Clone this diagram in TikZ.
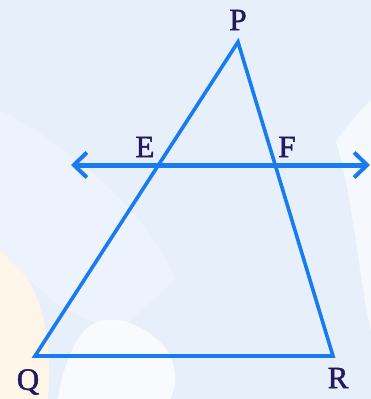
\documentclass[tikz,border=0pt]{standalone}
\usepackage{fontspec}
\setmainfont{Liberation Serif}
\newfontfamily\lblfont[FakeBold=1.6]{Liberation Serif}
\usetikzlibrary{arrows.meta,calc}
\definecolor{lineblue}{RGB}{24,124,240}
\definecolor{labelnavy}{RGB}{36,24,96}
\definecolor{bgblue}{RGB}{231,239,251}
\definecolor{bgblue2}{RGB}{237,243,252}
\definecolor{bgorange}{RGB}{253,245,232}
\begin{document}
\begin{tikzpicture}[x=1pt,y=-1pt,
  side/.style={draw=lineblue,line width=3.6pt,line join=miter},
  parline/.style={draw=lineblue,line width=5pt,{Straight Barb[length=13pt,width=25pt,line width=4pt]}-{Straight Barb[length=13pt,width=25pt,line width=4pt]}},
  lbl/.style={text=labelnavy,font=\lblfont\fontsize{31}{33}\selectfont,inner sep=0pt}]
\useasboundingbox (0,0) rectangle (371,399);
% background
\fill[bgblue] (0,0) rectangle (371,399);
\fill[bgorange] (0,250) .. controls (35,270) and (55,330) .. (48,399) -- (0,399) -- cycle;
\fill[bgblue2] (0,110) .. controls (60,140) and (150,210) .. (175,280) -- (120,330) .. controls (60,320) and (20,270) .. (0,250) -- cycle;
\fill[white,opacity=0.75] (85,330) .. controls (110,305) and (160,330) .. (172,360) .. controls (178,380) and (175,390) .. (170,399) -- (58,399) .. controls (62,370) and (72,345) .. (85,330) -- cycle;
\fill[white,opacity=0.6] (371,100) .. controls (355,115) and (340,135) .. (336,142) .. controls (352,190) and (362,300) .. (371,330) -- cycle;
% points
\coordinate (P) at (238,42);
\coordinate (Q) at (35,356);
\coordinate (R) at (333,356);
\coordinate (L) at (71,165);
\coordinate (Rt) at (370,165);
% triangle
\draw[side] (P) -- (Q) -- (R) -- cycle;
% parallel line
\draw[parline] (L) -- (Rt);
% labels
\node[lbl] (lP) at (238,20) {P};
\node[lbl] (lE) at (145,147) {E};
\node[lbl] (lF) at (287,147) {F};
\node[lbl] (lQ) at (28,382) {Q};
\node[lbl] (lR) at (338,378) {R};
\end{tikzpicture}
\end{document}
